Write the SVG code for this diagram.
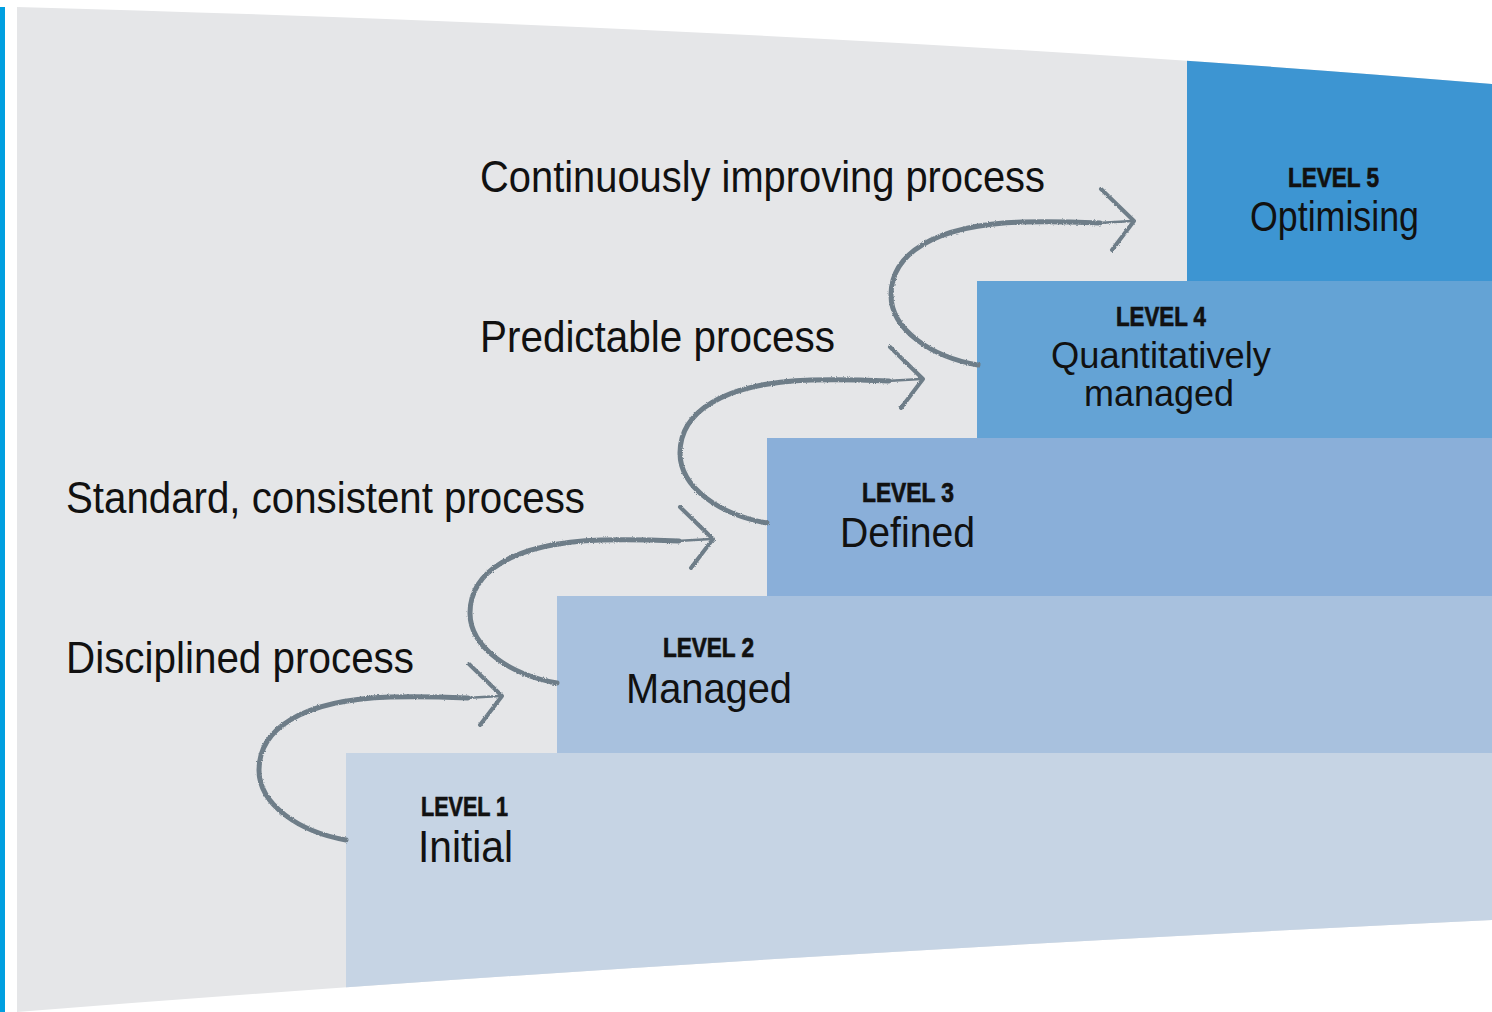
<svg xmlns="http://www.w3.org/2000/svg" xmlns:xlink="http://www.w3.org/1999/xlink" width="1492" height="1012" viewBox="0 0 1492 1012">
<style>
.t{font-family:"Liberation Sans Narrow","Liberation Sans",Arial,sans-serif;fill:#111;}
.lvl{font-weight:bold;font-size:27px;stroke:#111;stroke-width:0.7px;}
.nm{font-size:43px;}
.proc{font-size:44px;}
.arr{fill:none;stroke:#6e7d88;stroke-linecap:round;stroke-linejoin:round;}
</style>
<defs>
<clipPath id="bgclip"><path d="M17,7 Q850,30 1492,84 L1492,920 Q700,958 17,1012 Z"/></clipPath>
<filter id="chalk" x="-10%" y="-10%" width="120%" height="120%">
<feTurbulence type="fractalNoise" baseFrequency="0.9" numOctaves="2" seed="3" result="n"/>
<feDisplacementMap in="SourceGraphic" in2="n" scale="2.5" xChannelSelector="R" yChannelSelector="G"/>
</filter>
<g id="arrow">
<path class="arr" stroke-width="5" d="M346,840 C300,832 259,805 259,770 C259,730 300,700 390,697 C420,696 445,697 468,698"/>
<path class="arr" stroke-width="2.5" d="M466,698 L500,696"/>
<path class="arr" stroke-width="4" d="M469,664 L502,696 L480,725"/>
</g>
</defs>
<rect x="0" y="7" width="5" height="1005" fill="#009fe0"/>
<path id="background" d="M17,7 Q850,30 1492,84 L1492,920 Q700,958 17,1012 Z" fill="#e5e6e8"/>
<g clip-path="url(#bgclip)">
<g id="level5"><rect x="1187" y="0" width="305" height="281" fill="#3d95d2"/></g>
<g id="level4"><rect x="977" y="281" width="515" height="157" fill="#64a3d5"/></g>
<g id="level3"><rect x="767" y="438" width="725" height="158" fill="#8aafd9"/></g>
<g id="level2"><rect x="557" y="596" width="935" height="157" fill="#a8c1de"/></g>
<g id="level1"><rect x="346" y="753" width="1146" height="259" fill="#c6d4e4"/></g>
</g>
<g id="level5-text">
<text class="t lvl" x="1288" y="187" textLength="91" lengthAdjust="spacingAndGlyphs">LEVEL 5</text>
<text class="t nm" x="1250" y="231" font-size="41" textLength="169" lengthAdjust="spacingAndGlyphs">Optimising</text>
</g>
<g id="level4-text">
<text class="t lvl" x="1116" y="326" textLength="90" lengthAdjust="spacingAndGlyphs">LEVEL 4</text>
<text class="t nm" x="1051" y="368" style="font-size:37px" textLength="220" lengthAdjust="spacingAndGlyphs">Quantitatively</text>
<text class="t nm" x="1084" y="406" style="font-size:37px" textLength="150" lengthAdjust="spacingAndGlyphs">managed</text>
</g>
<g id="level3-text">
<text class="t lvl" x="862" y="502" textLength="92" lengthAdjust="spacingAndGlyphs">LEVEL 3</text>
<text class="t nm" x="840" y="547" textLength="135" lengthAdjust="spacingAndGlyphs">Defined</text>
</g>
<g id="level2-text">
<text class="t lvl" x="663" y="657" textLength="91" lengthAdjust="spacingAndGlyphs">LEVEL 2</text>
<text class="t nm" x="626" y="703" textLength="166" lengthAdjust="spacingAndGlyphs">Managed</text>
</g>
<g id="level1-text">
<text class="t lvl" x="421" y="816" textLength="87" lengthAdjust="spacingAndGlyphs">LEVEL 1</text>
<text class="t nm" x="418" y="862" style="font-size:44px" textLength="95" lengthAdjust="spacingAndGlyphs">Initial</text>
</g>
<g id="labels">
<text class="t proc" x="480" y="192" textLength="565" lengthAdjust="spacingAndGlyphs">Continuously improving process</text>
<text class="t proc" x="480" y="352" textLength="355" lengthAdjust="spacingAndGlyphs">Predictable process</text>
<text class="t proc" x="66" y="513" textLength="519" lengthAdjust="spacingAndGlyphs">Standard, consistent process</text>
<text class="t proc" x="66" y="673" textLength="348" lengthAdjust="spacingAndGlyphs">Disciplined process</text>
</g>
<g id="connectors" filter="url(#chalk)">
<use xlink:href="#arrow"/>
<use xlink:href="#arrow" transform="translate(211,-157)"/>
<use xlink:href="#arrow" transform="translate(421,-317)"/>
<use xlink:href="#arrow" transform="translate(632,-475)"/>
</g>
</svg>
